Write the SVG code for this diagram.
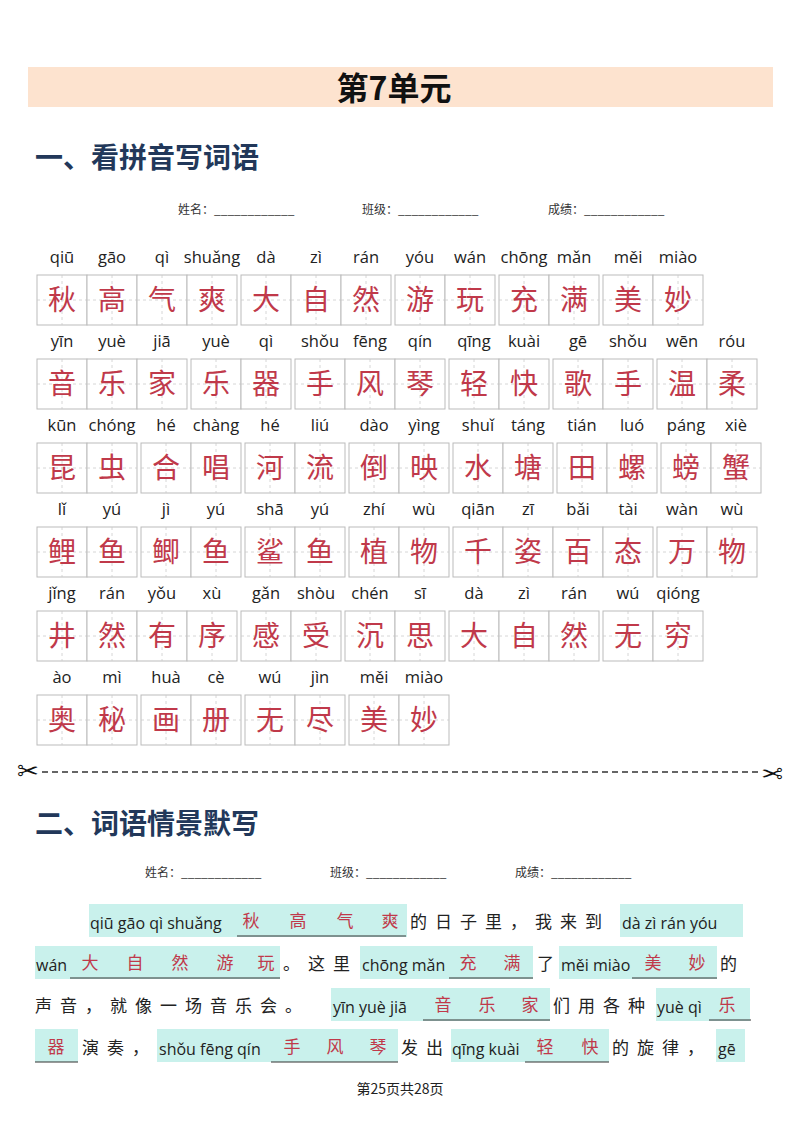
<svg xmlns="http://www.w3.org/2000/svg" xmlns:xlink="http://www.w3.org/1999/xlink" width="800" height="1132" viewBox="0 0 800 1132">
<style>
.py{font-family:"Open Sans","DejaVu Sans",sans-serif;font-size:16.5px;fill:#222;text-anchor:middle}
.hz{font-family:"Noto Sans CJK SC",sans-serif;font-size:28px;fill:#c0394a;text-anchor:middle}
.h1{font-family:"Noto Sans CJK SC",sans-serif;font-size:28px;font-weight:bold;fill:#22385a}
.meta{font-family:"Noto Sans CJK SC",sans-serif;font-size:12px;fill:#333}
.pt{font-family:"Open Sans","DejaVu Sans",sans-serif;font-size:16px;fill:#222}
.cn{font-family:"Noto Sans CJK SC",sans-serif;font-size:17px;fill:#222;letter-spacing:8px}
.an{font-family:"Noto Sans CJK SC",sans-serif;font-size:17px;fill:#c0394a;text-anchor:middle}
.hl{fill:#c9f1ec}
.ul{stroke:#333;stroke-width:1}
</style>
<defs>
<g id="cell"><rect x="0" y="0" width="50" height="50" fill="#fff" stroke="#bbb" stroke-width="1"/><path d="M0 25H50M25 0V50" stroke="#ccc" stroke-dasharray="3 3" stroke-width="0.8"/></g>
</defs>
<rect x="28" y="67" width="745" height="40" fill="#fde3cf"/>
<text x="394" y="100" text-anchor="middle" font-family="Noto Sans CJK SC,sans-serif" font-size="32" font-weight="bold" fill="#111">第7单元</text>
<text class="h1" x="35" y="168">一、看拼音写词语</text>
<text class="meta" x="178" y="214">姓名：____________</text>
<text class="meta" x="362" y="214">班级：____________</text>
<text class="meta" x="548" y="214">成绩：____________</text>
<g id="grid">
<g id="row1">
<use href="#cell" x="37" y="275"/><use href="#cell" x="87" y="275"/><use href="#cell" x="137" y="275"/><use href="#cell" x="187" y="275"/><use href="#cell" x="241" y="275"/><use href="#cell" x="291" y="275"/><use href="#cell" x="341" y="275"/><use href="#cell" x="395" y="275"/><use href="#cell" x="445" y="275"/><use href="#cell" x="499" y="275"/><use href="#cell" x="549" y="275"/><use href="#cell" x="603" y="275"/><use href="#cell" x="653" y="275"/>
<text class="py" y="263"><tspan x="62">qiū</tspan><tspan x="112">gāo</tspan><tspan x="162">qì</tspan><tspan x="212">shuǎng</tspan><tspan x="266">dà</tspan><tspan x="316">zì</tspan><tspan x="366">rán</tspan><tspan x="420">yóu</tspan><tspan x="470">wán</tspan><tspan x="524">chōng</tspan><tspan x="574">mǎn</tspan><tspan x="628">měi</tspan><tspan x="678">miào</tspan></text>
<text class="hz" y="310"><tspan x="62">秋</tspan><tspan x="112">高</tspan><tspan x="162">气</tspan><tspan x="212">爽</tspan><tspan x="266">大</tspan><tspan x="316">自</tspan><tspan x="366">然</tspan><tspan x="420">游</tspan><tspan x="470">玩</tspan><tspan x="524">充</tspan><tspan x="574">满</tspan><tspan x="628">美</tspan><tspan x="678">妙</tspan></text>
</g>
<g id="row2">
<use href="#cell" x="37" y="359"/><use href="#cell" x="87" y="359"/><use href="#cell" x="137" y="359"/><use href="#cell" x="191" y="359"/><use href="#cell" x="241" y="359"/><use href="#cell" x="295" y="359"/><use href="#cell" x="345" y="359"/><use href="#cell" x="395" y="359"/><use href="#cell" x="449" y="359"/><use href="#cell" x="499" y="359"/><use href="#cell" x="553" y="359"/><use href="#cell" x="603" y="359"/><use href="#cell" x="657" y="359"/><use href="#cell" x="707" y="359"/>
<text class="py" y="347"><tspan x="62">yīn</tspan><tspan x="112">yuè</tspan><tspan x="162">jiā</tspan><tspan x="216">yuè</tspan><tspan x="266">qì</tspan><tspan x="320">shǒu</tspan><tspan x="370">fēng</tspan><tspan x="420">qín</tspan><tspan x="474">qīng</tspan><tspan x="524">kuài</tspan><tspan x="578">gē</tspan><tspan x="628">shǒu</tspan><tspan x="682">wēn</tspan><tspan x="732">róu</tspan></text>
<text class="hz" y="394"><tspan x="62">音</tspan><tspan x="112">乐</tspan><tspan x="162">家</tspan><tspan x="216">乐</tspan><tspan x="266">器</tspan><tspan x="320">手</tspan><tspan x="370">风</tspan><tspan x="420">琴</tspan><tspan x="474">轻</tspan><tspan x="524">快</tspan><tspan x="578">歌</tspan><tspan x="628">手</tspan><tspan x="682">温</tspan><tspan x="732">柔</tspan></text>
</g>
<g id="row3">
<use href="#cell" x="37" y="443"/><use href="#cell" x="87" y="443"/><use href="#cell" x="141" y="443"/><use href="#cell" x="191" y="443"/><use href="#cell" x="245" y="443"/><use href="#cell" x="295" y="443"/><use href="#cell" x="349" y="443"/><use href="#cell" x="399" y="443"/><use href="#cell" x="453" y="443"/><use href="#cell" x="503" y="443"/><use href="#cell" x="557" y="443"/><use href="#cell" x="607" y="443"/><use href="#cell" x="661" y="443"/><use href="#cell" x="711" y="443"/>
<text class="py" y="431"><tspan x="62">kūn</tspan><tspan x="112">chóng</tspan><tspan x="166">hé</tspan><tspan x="216">chàng</tspan><tspan x="270">hé</tspan><tspan x="320">liú</tspan><tspan x="374">dào</tspan><tspan x="424">yìng</tspan><tspan x="478">shuǐ</tspan><tspan x="528">táng</tspan><tspan x="582">tián</tspan><tspan x="632">luó</tspan><tspan x="686">páng</tspan><tspan x="736">xiè</tspan></text>
<text class="hz" y="478"><tspan x="62">昆</tspan><tspan x="112">虫</tspan><tspan x="166">合</tspan><tspan x="216">唱</tspan><tspan x="270">河</tspan><tspan x="320">流</tspan><tspan x="374">倒</tspan><tspan x="424">映</tspan><tspan x="478">水</tspan><tspan x="528">塘</tspan><tspan x="582">田</tspan><tspan x="632">螺</tspan><tspan x="686">螃</tspan><tspan x="736">蟹</tspan></text>
</g>
<g id="row4">
<use href="#cell" x="37" y="527"/><use href="#cell" x="87" y="527"/><use href="#cell" x="141" y="527"/><use href="#cell" x="191" y="527"/><use href="#cell" x="245" y="527"/><use href="#cell" x="295" y="527"/><use href="#cell" x="349" y="527"/><use href="#cell" x="399" y="527"/><use href="#cell" x="453" y="527"/><use href="#cell" x="503" y="527"/><use href="#cell" x="553" y="527"/><use href="#cell" x="603" y="527"/><use href="#cell" x="657" y="527"/><use href="#cell" x="707" y="527"/>
<text class="py" y="515"><tspan x="62">lǐ</tspan><tspan x="112">yú</tspan><tspan x="166">jì</tspan><tspan x="216">yú</tspan><tspan x="270">shā</tspan><tspan x="320">yú</tspan><tspan x="374">zhí</tspan><tspan x="424">wù</tspan><tspan x="478">qiān</tspan><tspan x="528">zī</tspan><tspan x="578">bǎi</tspan><tspan x="628">tài</tspan><tspan x="682">wàn</tspan><tspan x="732">wù</tspan></text>
<text class="hz" y="562"><tspan x="62">鲤</tspan><tspan x="112">鱼</tspan><tspan x="166">鲫</tspan><tspan x="216">鱼</tspan><tspan x="270">鲨</tspan><tspan x="320">鱼</tspan><tspan x="374">植</tspan><tspan x="424">物</tspan><tspan x="478">千</tspan><tspan x="528">姿</tspan><tspan x="578">百</tspan><tspan x="628">态</tspan><tspan x="682">万</tspan><tspan x="732">物</tspan></text>
</g>
<g id="row5">
<use href="#cell" x="37" y="611"/><use href="#cell" x="87" y="611"/><use href="#cell" x="137" y="611"/><use href="#cell" x="187" y="611"/><use href="#cell" x="241" y="611"/><use href="#cell" x="291" y="611"/><use href="#cell" x="345" y="611"/><use href="#cell" x="395" y="611"/><use href="#cell" x="449" y="611"/><use href="#cell" x="499" y="611"/><use href="#cell" x="549" y="611"/><use href="#cell" x="603" y="611"/><use href="#cell" x="653" y="611"/>
<text class="py" y="599"><tspan x="62">jǐng</tspan><tspan x="112">rán</tspan><tspan x="162">yǒu</tspan><tspan x="212">xù</tspan><tspan x="266">gǎn</tspan><tspan x="316">shòu</tspan><tspan x="370">chén</tspan><tspan x="420">sī</tspan><tspan x="474">dà</tspan><tspan x="524">zì</tspan><tspan x="574">rán</tspan><tspan x="628">wú</tspan><tspan x="678">qióng</tspan></text>
<text class="hz" y="646"><tspan x="62">井</tspan><tspan x="112">然</tspan><tspan x="162">有</tspan><tspan x="212">序</tspan><tspan x="266">感</tspan><tspan x="316">受</tspan><tspan x="370">沉</tspan><tspan x="420">思</tspan><tspan x="474">大</tspan><tspan x="524">自</tspan><tspan x="574">然</tspan><tspan x="628">无</tspan><tspan x="678">穷</tspan></text>
</g>
<g id="row6">
<use href="#cell" x="37" y="695"/><use href="#cell" x="87" y="695"/><use href="#cell" x="141" y="695"/><use href="#cell" x="191" y="695"/><use href="#cell" x="245" y="695"/><use href="#cell" x="295" y="695"/><use href="#cell" x="349" y="695"/><use href="#cell" x="399" y="695"/>
<text class="py" y="683"><tspan x="62">ào</tspan><tspan x="112">mì</tspan><tspan x="166">huà</tspan><tspan x="216">cè</tspan><tspan x="270">wú</tspan><tspan x="320">jìn</tspan><tspan x="374">měi</tspan><tspan x="424">miào</tspan></text>
<text class="hz" y="730"><tspan x="62">奥</tspan><tspan x="112">秘</tspan><tspan x="166">画</tspan><tspan x="216">册</tspan><tspan x="270">无</tspan><tspan x="320">尽</tspan><tspan x="374">美</tspan><tspan x="424">妙</tspan></text>
</g>
</g>
<g id="cutline">
<line x1="42" y1="772" x2="758" y2="772" stroke="#333" stroke-width="1.3" stroke-dasharray="6 4"/>
<text x="28" y="780" font-family="DejaVu Sans,sans-serif" font-size="26" text-anchor="middle" fill="#111">✂</text>
<text x="772" y="780" font-family="DejaVu Sans,sans-serif" font-size="26" text-anchor="middle" fill="#111" transform="rotate(180 772 772)">✂</text>
</g>
<text class="h1" x="35" y="834">二、词语情景默写</text>
<text class="meta" x="145" y="877">姓名：____________</text>
<text class="meta" x="330" y="877">班级：____________</text>
<text class="meta" x="515" y="877">成绩：____________</text>
<g id="passage">
<rect class="hl" x="89" y="904" width="318" height="33"/>
<rect class="hl" x="620" y="904" width="123" height="33"/>
<rect class="hl" x="35" y="946" width="245" height="33"/>
<rect class="hl" x="360" y="946" width="173" height="33"/>
<rect class="hl" x="559" y="946" width="158" height="33"/>
<rect class="hl" x="331" y="988" width="219" height="33"/>
<rect class="hl" x="656" y="988" width="94" height="33"/>
<rect class="hl" x="35" y="1029" width="43" height="33"/>
<rect class="hl" x="157" y="1029" width="241" height="33"/>
<rect class="hl" x="451" y="1029" width="158" height="33"/>
<rect class="hl" x="716" y="1029" width="29" height="33"/>
<g class="ul">
<line x1="237" y1="936" x2="406" y2="936"/>
<line x1="70" y1="978" x2="280" y2="978"/>
<line x1="449" y1="978" x2="533" y2="978"/>
<line x1="632" y1="978" x2="717" y2="978"/>
<line x1="423" y1="1020" x2="550" y2="1020"/>
<line x1="709" y1="1020" x2="751" y2="1020"/>
<line x1="35" y1="1062" x2="78" y2="1062"/>
<line x1="271" y1="1062" x2="398" y2="1062"/>
<line x1="525" y1="1062" x2="609" y2="1062"/>
</g>
<text class="pt" x="90" y="929">qiū gāo qì shuǎng</text>
<text class="an" y="927"><tspan x="251">秋</tspan><tspan x="298">高</tspan><tspan x="345">气</tspan><tspan x="390">爽</tspan></text>
<text class="cn" x="410" y="928">的日子里，我来到</text>
<text class="pt" x="622" y="929">dà zì rán yóu</text>
<text class="pt" x="36" y="971">wán</text>
<text class="an" y="969"><tspan x="90">大</tspan><tspan x="135">自</tspan><tspan x="180">然</tspan><tspan x="225">游</tspan><tspan x="266">玩</tspan></text>
<text class="cn" x="283" y="970">。这里</text>
<text class="pt" x="362" y="971">chōng mǎn</text>
<text class="an" y="969"><tspan x="468">充</tspan><tspan x="512">满</tspan></text>
<text x="537" y="970" font-family="Noto Sans CJK SC,sans-serif" font-size="17" fill="#222">了</text>
<text class="pt" x="561" y="971">měi miào</text>
<text class="an" y="969"><tspan x="653">美</tspan><tspan x="697">妙</tspan></text>
<text class="cn" x="720" y="970">的</text>
<text class="cn" x="35" y="1012">声音，就像一场音乐会。</text>
<text class="pt" x="333" y="1013">yīn yuè jiā</text>
<text class="an" y="1011"><tspan x="443">音</tspan><tspan x="487">乐</tspan><tspan x="530">家</tspan></text>
<text class="cn" x="553" y="1012">们用各种</text>
<text class="pt" x="657" y="1013">yuè qì</text>
<text class="an" x="727" y="1011">乐</text>
<text class="an" x="56" y="1053">器</text>
<text class="cn" x="82" y="1054">演奏，</text>
<text class="pt" x="159" y="1055">shǒu fēng qín</text>
<text class="an" y="1053"><tspan x="292">手</tspan><tspan x="335">风</tspan><tspan x="378">琴</tspan></text>
<text class="cn" x="401" y="1054">发出</text>
<text class="pt" x="452" y="1055">qīng kuài</text>
<text class="an" y="1053"><tspan x="545">轻</tspan><tspan x="590">快</tspan></text>
<text class="cn" x="612" y="1054">的旋律，</text>
<text class="pt" x="718" y="1055">gē</text>
</g>
<text x="400" y="1094" text-anchor="middle" font-family="Noto Sans CJK SC,sans-serif" font-size="14" fill="#222">第25页共28页</text>
</svg>
